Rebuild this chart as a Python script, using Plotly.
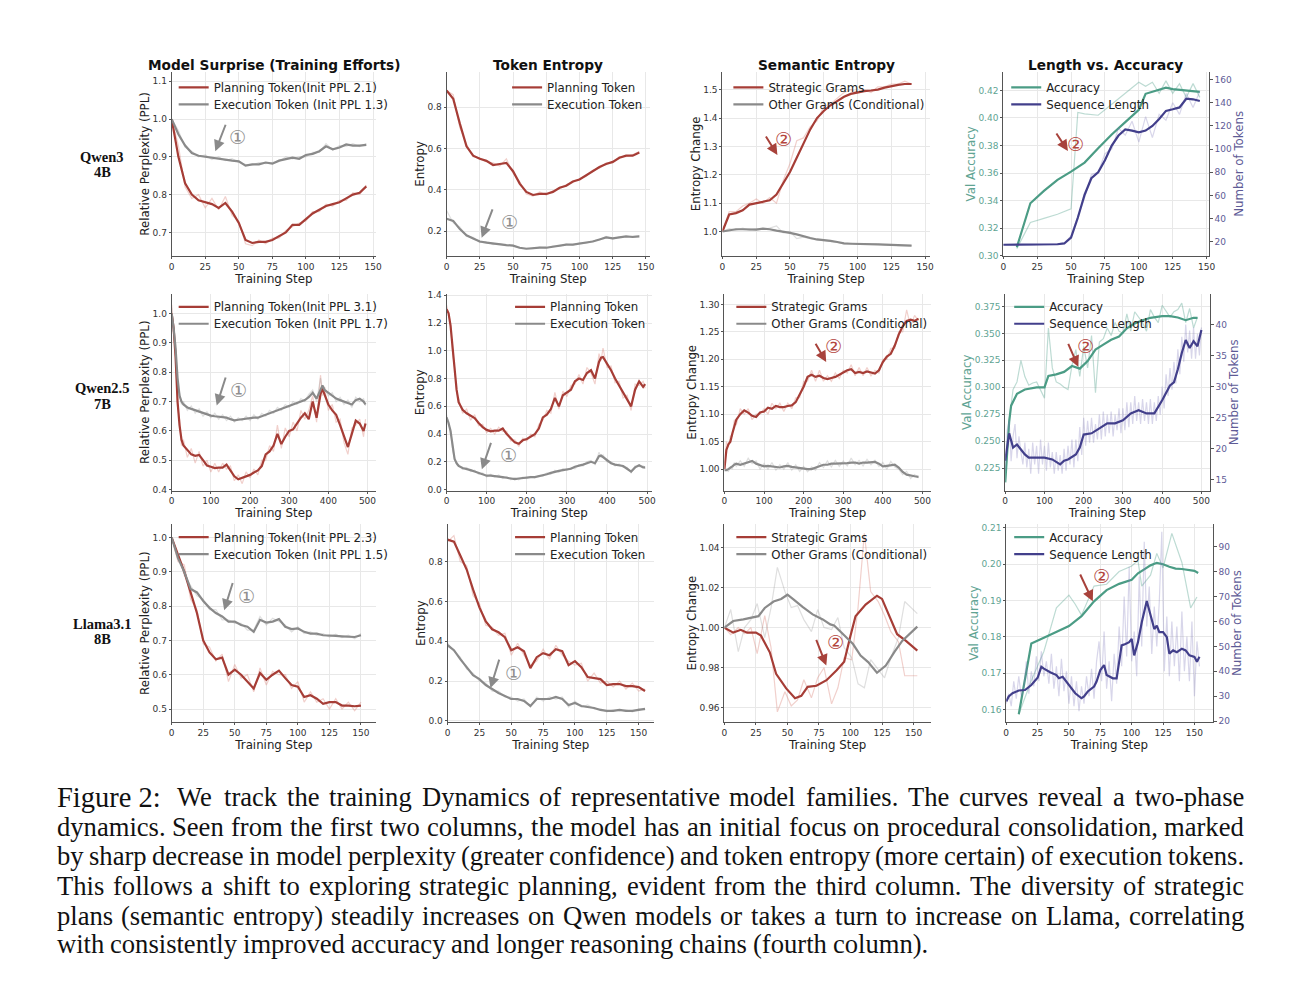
import plotly.graph_objects as go

W, H = 1300, 995

# ------------------------------------------------------------------ data
# Row 1 : Qwen3 4B
R1_X = [0, 5, 10, 15, 20, 25, 30, 35, 40, 45, 50, 55, 60, 65, 70, 75, 80, 85, 90, 95,
        100, 105, 110, 115, 120, 125, 130, 135, 140, 145]
R1C1_PLAN = [1.0, 0.90, 0.83, 0.80, 0.785, 0.78, 0.775, 0.765, 0.778, 0.755, 0.725, 0.68, 0.672, 0.675,
             0.675, 0.68, 0.69, 0.70, 0.72, 0.72, 0.735, 0.75, 0.76, 0.77, 0.775, 0.78, 0.79, 0.80, 0.805, 0.822]
R1C1_EXEC = [1.0, 0.96, 0.93, 0.91, 0.903, 0.90, 0.897, 0.895, 0.893, 0.89, 0.888, 0.877, 0.88, 0.88,
             0.885, 0.882, 0.89, 0.895, 0.898, 0.895, 0.905, 0.908, 0.915, 0.928, 0.92, 0.925, 0.933, 0.93, 0.93, 0.932]
R1C1_PLAN_RAW = [1.0, 0.93, 0.82, 0.79, 0.80, 0.765, 0.79, 0.76, 0.795, 0.745, 0.73, 0.67, 0.665, 0.68, 0.67,
                 0.685, 0.685, 0.705, 0.715, 0.725, 0.73, 0.755, 0.755, 0.775, 0.77, 0.785, 0.785, 0.805, 0.80, 0.825]
R1C1_EXEC_RAW = [1.0, 0.97, 0.925, 0.915, 0.90, 0.905, 0.893, 0.90, 0.89, 0.895, 0.885, 0.88, 0.878, 0.885,
                 0.882, 0.886, 0.888, 0.90, 0.895, 0.90, 0.90, 0.912, 0.912, 0.935, 0.918, 0.93, 0.928, 0.935,
                 0.927, 0.935]
R1C2_PLAN = [0.88, 0.84, 0.72, 0.61, 0.565, 0.55, 0.54, 0.52, 0.525, 0.53, 0.49, 0.43, 0.39, 0.375, 0.38,
             0.38, 0.39, 0.41, 0.42, 0.44, 0.45, 0.47, 0.49, 0.51, 0.525, 0.535, 0.555, 0.565, 0.565, 0.58]
R1C2_EXEC = [0.26, 0.25, 0.21, 0.18, 0.165, 0.15, 0.145, 0.14, 0.135, 0.133, 0.13, 0.12, 0.115, 0.118, 0.12,
             0.12, 0.125, 0.13, 0.135, 0.135, 0.14, 0.145, 0.15, 0.16, 0.17, 0.165, 0.17, 0.175, 0.172, 0.175]
R1C2_PLAN_RAW = [0.88, 0.86, 0.70, 0.62, 0.56, 0.555, 0.535, 0.53, 0.515, 0.55, 0.48, 0.44, 0.38, 0.37, 0.39,
                 0.375, 0.395, 0.405, 0.425, 0.435, 0.455, 0.465, 0.495, 0.505, 0.53, 0.53, 0.56, 0.56, 0.57, 0.585]
R1C2_EXEC_RAW = [0.30, 0.24, 0.22, 0.175, 0.17, 0.145, 0.15, 0.135, 0.14, 0.13, 0.133, 0.118, 0.117, 0.115,
                 0.123, 0.118, 0.128, 0.127, 0.138, 0.132, 0.143, 0.142, 0.153, 0.158, 0.175, 0.162, 0.173,
                 0.172, 0.176, 0.178]
R1C3_X = [0, 5, 10, 15, 20, 25, 30, 35, 40, 45, 50, 55, 60, 65, 70, 75, 80, 85, 90, 95,
          100, 105, 110, 115, 120, 125, 130, 135, 140]
R1C3_STRAT = [1.0, 1.06, 1.065, 1.075, 1.095, 1.10, 1.105, 1.11, 1.13, 1.17, 1.21, 1.26, 1.31, 1.36, 1.40,
              1.425, 1.445, 1.46, 1.475, 1.485, 1.49, 1.495, 1.497, 1.50, 1.507, 1.513, 1.517, 1.52, 1.52]
R1C3_OTHER = [1.0, 1.005, 1.008, 1.008, 1.007, 1.007, 1.01, 1.008, 1.003, 1.0, 0.995, 0.99, 0.983, 0.977,
              0.972, 0.97, 0.967, 0.963, 0.958, 0.957, 0.957, 0.956, 0.956, 0.955, 0.954, 0.953, 0.951, 0.95, 0.95]
R1C3_STRAT_RAW = [1.0, 1.07, 1.07, 1.09, 1.10, 1.115, 1.10, 1.12, 1.10, 1.18, 1.24, 1.32, 1.33, 1.37, 1.39,
                  1.44, 1.45, 1.47, 1.49, 1.50, 1.49, 1.50, 1.49, 1.51, 1.51, 1.52, 1.52, 1.53, 1.52]
R1C3_OTHER_RAW = [1.0, 1.01, 1.005, 1.012, 1.005, 1.01, 1.008, 1.012, 1.02, 0.995, 1.0, 0.975, 0.98, 0.975,
                  0.97, 0.968, 0.965, 0.962, 0.956, 0.958, 0.955, 0.957, 0.955, 0.956, 0.953, 0.954, 0.95, 0.951, 0.95]
R1C4_ACC_X = [10, 20, 30, 40, 50, 60, 70, 80, 90, 100, 105, 110, 120, 125, 130, 140, 145]
R1C4_ACC = [0.306, 0.338, 0.347, 0.355, 0.361, 0.3676, 0.378, 0.388, 0.397, 0.406, 0.4176, 0.419, 0.422,
            0.421, 0.4205, 0.419, 0.419]
R1C4_ACC_RAW_X = [10, 20, 30, 40, 50, 55, 60, 70, 80, 90, 100, 105, 110, 115, 120, 125, 130, 135, 140, 145]
R1C4_ACC_RAW = [0.305, 0.324, 0.327, 0.330, 0.334, 0.404, 0.403, 0.402, 0.41, 0.418, 0.426, 0.423, 0.426,
                0.418, 0.427, 0.418, 0.425, 0.415, 0.425, 0.415]
R1C4_SEQ = [17.4, 17.4, 17.6, 17.4, 17.2, 17.2, 17.4, 17.6, 17.8, 18.5, 23.6, 40.7, 60.6, 74.8, 80, 90.4,
            103, 111.7, 117, 116, 114.5, 116, 120, 126, 133, 134.4, 136, 143.5, 143, 141.5]
R1C4_SEQ_RAW = [17.4, 17.6, 17.8, 17.5, 17.2, 17.4, 17.6, 17.9, 18.2, 19, 25, 42, 58, 78, 80, 96, 100, 118,
                112, 124, 106, 128, 110, 130, 125, 140, 130, 148, 136, 150]

# Row 2 : Qwen2.5 7B
R2_X = [0, 5, 10, 15, 20, 25, 30, 40, 50, 60, 70, 80, 90, 100, 110, 120, 130, 140, 150, 160, 170, 180,
        190, 200, 210, 220, 230, 240, 250, 260, 270, 280, 290, 300, 310, 320, 330, 340, 350, 360, 370,
        380, 385, 390, 400, 410, 420, 430, 440, 450, 460, 470, 480, 490, 495]
R2C1_PLAN = [1.0, 0.95, 0.85, 0.70, 0.62, 0.57, 0.55,
             0.535, 0.52, 0.515, 0.518, 0.50, 0.482, 0.478, 0.473, 0.475, 0.475, 0.485, 0.465, 0.445, 0.435,
             0.44, 0.445, 0.45, 0.458, 0.465, 0.48, 0.52, 0.53, 0.55, 0.59, 0.555, 0.58, 0.60, 0.605, 0.625,
             0.645, 0.66, 0.64, 0.70, 0.645, 0.725, 0.745, 0.725,
             0.69, 0.67, 0.655, 0.62, 0.585, 0.545, 0.59, 0.635, 0.625, 0.60, 0.625]
R2C1_EXEC = [1.0, 0.95, 0.88, 0.78, 0.72, 0.70, 0.69,
             0.68, 0.675, 0.67, 0.665, 0.66, 0.655, 0.652, 0.65, 0.648, 0.645, 0.645, 0.64, 0.636, 0.638,
             0.64, 0.642, 0.642, 0.645, 0.645, 0.65, 0.655, 0.66, 0.665, 0.67, 0.675, 0.68, 0.685, 0.69,
             0.695, 0.70, 0.705, 0.715, 0.73, 0.71, 0.74, 0.755, 0.74,
             0.73, 0.72, 0.71, 0.705, 0.70, 0.695, 0.69, 0.705, 0.71, 0.70, 0.69]
R2C1_PLAN_RAW = [1.03, 0.92, 0.87, 0.68, 0.64, 0.55, 0.57,
                 0.51, 0.54, 0.49, 0.53, 0.48, 0.50, 0.46, 0.49, 0.46, 0.49, 0.47, 0.48, 0.43, 0.45, 0.42,
                 0.46, 0.44, 0.47, 0.45, 0.50, 0.50, 0.55, 0.53, 0.62, 0.54, 0.61, 0.58, 0.63, 0.60, 0.67,
                 0.64, 0.67, 0.72, 0.63, 0.79, 0.72, 0.75,
                 0.67, 0.69, 0.63, 0.64, 0.56, 0.52, 0.61, 0.62, 0.64, 0.58, 0.64]
R2C1_EXEC_RAW = [1.02, 0.93, 0.90, 0.75, 0.73, 0.69, 0.70,
                 0.67, 0.685, 0.66, 0.675, 0.65, 0.665, 0.645, 0.66, 0.64, 0.655, 0.635, 0.65, 0.63, 0.645,
                 0.635, 0.65, 0.635, 0.655, 0.64, 0.66, 0.65, 0.67, 0.66, 0.68, 0.67, 0.69, 0.68, 0.70, 0.69,
                 0.71, 0.70, 0.725, 0.74, 0.70, 0.78, 0.74, 0.75,
                 0.72, 0.73, 0.70, 0.715, 0.69, 0.705, 0.68, 0.715, 0.70, 0.71, 0.685]
R2C2_PLAN = [1.3, 1.27, 1.18, 1.02, 0.85, 0.72, 0.63,
             0.575, 0.55, 0.53, 0.515, 0.48, 0.45, 0.43, 0.42, 0.425, 0.425, 0.44, 0.40, 0.37, 0.34, 0.33,
             0.355, 0.365, 0.38, 0.40, 0.44, 0.52, 0.54, 0.58, 0.66, 0.60, 0.68, 0.70, 0.72, 0.78, 0.80,
             0.79, 0.84, 0.86, 0.80, 0.92, 0.95, 0.955,
             0.91, 0.86, 0.80, 0.75, 0.69, 0.65, 0.60, 0.72, 0.78, 0.74, 0.76]
R2C2_EXEC = [0.52, 0.48, 0.42, 0.30, 0.22, 0.19, 0.17,
             0.155, 0.15, 0.14, 0.13, 0.12, 0.11, 0.10, 0.10, 0.098, 0.095, 0.09, 0.085, 0.08, 0.075, 0.08,
             0.085, 0.085, 0.09, 0.09, 0.095, 0.10, 0.11, 0.12, 0.13, 0.135, 0.14, 0.145, 0.15, 0.165, 0.17,
             0.18, 0.19, 0.20, 0.19, 0.24, 0.245, 0.235,
             0.21, 0.19, 0.18, 0.175, 0.17, 0.15, 0.13, 0.16, 0.175, 0.16, 0.16]
R2C2_PLAN_RAW = [1.33, 1.25, 1.20, 0.98, 0.88, 0.70, 0.66,
                 0.55, 0.58, 0.50, 0.54, 0.46, 0.47, 0.41, 0.44, 0.40, 0.45, 0.42, 0.42, 0.35, 0.36, 0.31,
                 0.37, 0.35, 0.40, 0.38, 0.47, 0.50, 0.57, 0.55, 0.70, 0.58, 0.71, 0.67, 0.75, 0.76, 0.83,
                 0.76, 0.88, 0.84, 0.76, 0.98, 0.93, 1.02,
                 0.88, 0.89, 0.77, 0.78, 0.66, 0.68, 0.57, 0.76, 0.75, 0.78, 0.73]
R2C2_EXEC_RAW = [0.54, 0.46, 0.44, 0.28, 0.23, 0.18, 0.18,
                 0.145, 0.16, 0.13, 0.14, 0.11, 0.12, 0.09, 0.11, 0.09, 0.105, 0.08, 0.095, 0.07, 0.085, 0.07,
                 0.09, 0.08, 0.095, 0.085, 0.10, 0.095, 0.12, 0.11, 0.14, 0.125, 0.15, 0.14, 0.16, 0.15, 0.18,
                 0.17, 0.20, 0.21, 0.18, 0.27, 0.23, 0.25,
                 0.20, 0.20, 0.17, 0.185, 0.16, 0.16, 0.12, 0.17, 0.165, 0.17, 0.15]
R2C3_X = [0, 5, 10, 15, 20, 25, 30, 40, 50, 60, 70, 80, 90, 100, 110, 120, 130, 140, 150, 160, 170, 180,
          190, 200, 210, 220, 230, 240, 250, 260, 270, 280, 290, 300, 310, 320, 330, 340, 350, 360, 370,
          380, 390, 400, 410, 420, 430, 440, 450, 460, 470, 480, 490]
R2C3_STRAT = [1.0, 1.035, 1.045, 1.05, 1.065, 1.08, 1.09,
              1.10, 1.107, 1.103, 1.097, 1.095, 1.103,
              1.105, 1.112, 1.11, 1.115, 1.113, 1.113, 1.115, 1.116, 1.122, 1.135,
              1.15, 1.168, 1.172, 1.168, 1.17, 1.166, 1.164, 1.166, 1.168, 1.172,
              1.176, 1.18, 1.182, 1.175, 1.177, 1.175, 1.178, 1.176, 1.174, 1.18,
              1.195, 1.205, 1.21, 1.225, 1.245, 1.26, 1.27, 1.272, 1.27, 1.274]
R2C3_OTHER = [0.998, 0.998, 1.0, 1.002, 1.005, 1.008, 1.01,
              1.008, 1.01, 1.012, 1.015, 1.01, 1.007,
              1.005, 1.006, 1.005, 1.004, 1.003, 1.005, 1.006, 1.004, 1.003, 1.001,
              1.0, 1.0, 1.0, 1.003, 1.005, 1.008, 1.008, 1.01, 1.01, 1.01,
              1.01, 1.011, 1.012, 1.012, 1.01, 1.012, 1.012, 1.013, 1.013, 1.01,
              1.005, 1.006, 1.007, 1.008, 1.003, 0.995, 0.99, 0.988, 0.987, 0.986]
R2C3_STRAT_RAW = [1.0, 1.05, 1.04, 1.06, 1.06, 1.09, 1.08,
                  1.11, 1.10, 1.11, 1.09, 1.10, 1.10,
                  1.11, 1.10, 1.12, 1.11, 1.12, 1.105, 1.12, 1.11, 1.13, 1.13,
                  1.16, 1.16, 1.18, 1.16, 1.18, 1.16, 1.17, 1.16, 1.175, 1.165,
                  1.18, 1.175, 1.19, 1.17, 1.185, 1.17, 1.185, 1.17, 1.18, 1.175,
                  1.20, 1.20, 1.22, 1.22, 1.25, 1.25, 1.29, 1.26, 1.28, 1.27]
R2C3_OTHER_RAW = [0.998, 1.0, 0.995, 1.005, 1.0, 1.012, 1.005,
                  1.015, 1.005, 1.02, 1.01, 1.015, 1.0,
                  1.01, 1.0, 1.012, 0.998, 1.008, 1.0, 1.012, 0.998, 1.008, 0.996,
                  1.005, 0.995, 1.004, 0.998, 1.012, 1.003, 1.015, 1.004, 1.016, 1.005,
                  1.015, 1.006, 1.02, 1.008, 1.016, 1.006, 1.018, 1.008, 1.016, 1.005,
                  1.012, 1.0, 1.014, 1.004, 1.0, 0.99, 0.996, 0.983, 0.99, 0.984]
R2C4_ACC_X = [0, 5, 10, 15, 20, 30, 50, 80, 100, 110, 130, 150, 170, 190, 210, 230, 250, 270, 290, 310,
              330, 350, 370, 400, 420, 440, 460, 480, 490]
R2C4_ACC = [0.212, 0.245, 0.268, 0.283, 0.287, 0.294, 0.298, 0.300, 0.300, 0.3106, 0.312, 0.3143, 0.3197,
            0.3173, 0.3243, 0.335, 0.3395, 0.344, 0.347, 0.3547, 0.3592, 0.3622, 0.3644, 0.3659, 0.366,
            0.3647, 0.3622, 0.3644, 0.3644]
R2C4_ACC_RAW_X = [0, 10, 20, 30, 40, 50, 60, 70, 80, 90, 100, 110, 120, 130, 140, 150, 160, 170, 180, 190,
                  200, 210, 220, 230, 240, 250, 260, 270, 280, 290, 300, 310, 320, 330, 340, 350, 360, 370,
                  380, 390, 400, 410, 420, 430, 440, 450, 460, 470, 480, 490]
R2C4_ACC_RAW = [0.212, 0.27, 0.298, 0.305, 0.325, 0.31, 0.302, 0.304, 0.305, 0.298, 0.29, 0.355, 0.318,
                0.305, 0.303, 0.30, 0.298, 0.32, 0.335, 0.31, 0.338, 0.318, 0.348, 0.295, 0.342, 0.345,
                0.355, 0.348, 0.36, 0.352, 0.35, 0.368, 0.352, 0.37, 0.365, 0.36, 0.352, 0.372, 0.365, 0.36,
                0.376, 0.37, 0.365, 0.37, 0.372, 0.378, 0.36, 0.373, 0.355, 0.365]
R2C4_SEQ_X = [0, 10, 20, 30, 40, 50, 60, 80, 100, 120, 140, 150, 160, 180, 190, 200, 220, 240, 260, 280,
              300, 320, 340, 360, 380, 400, 420, 430, 440, 450, 460, 470, 480, 490, 500]
R2C4_SEQ = [18.1, 22.5, 20.2, 20.7, 19.9, 19.1, 18.6, 18.6, 18.6, 18.3, 17.5, 18.1, 18.3, 19.1, 20.2, 22.3,
            22.5, 23.3, 24.1, 24.1, 24.6, 25.7, 26.2, 25.7, 25.7, 27.8, 30.2, 30.7, 32.8, 35.4, 37.5, 36.2,
            37.3, 36.5, 39.1]
R2C4_SEQ_RAW_X = list(range(0, 501, 5))
R2C4_SEQ_RAW = [16.5, 23.0, 24.5, 18.0, 22.0, 24.0, 18.5, 22.0, 19.5, 17.5,
                21.0, 17.0, 20.0, 16.0, 21.0, 17.5, 20.5, 16.0, 21.5, 17.5,
                20.5, 16.5, 21.0, 17.0, 19.5, 16.0, 19.5, 16.5, 19.0, 16.0,
                20.0, 16.5, 20.5, 17.5, 21.5, 17.0, 21.5, 18.0, 23.5, 19.0,
                25.0, 20.5, 24.5, 21.0, 25.0, 21.0, 24.0, 21.5, 25.5, 21.5,
                26.0, 22.0, 25.5, 22.5, 26.0, 22.0, 25.5, 23.0, 26.5, 22.5,
                26.5, 23.0, 27.5, 23.5, 27.5, 24.0, 28.5, 24.5, 27.5, 24.0,
                28.0, 24.5, 27.5, 24.0, 28.0, 24.0, 27.5, 24.5, 28.5, 25.5,
                30.0, 26.5, 32.0, 28.5, 33.0, 29.5, 34.0, 30.5, 36.0, 32.0,
                38.0, 34.0, 40.0, 35.5, 39.0, 34.5, 39.5, 34.5, 38.5, 35.0,
                39.5]

# Row 3 : Llama3.1 8B
R3_X = [0, 5, 10, 15, 20, 25, 30, 35, 40, 45, 50, 55, 60, 65, 70, 75, 80, 85, 90, 95, 100, 105, 110,
        115, 120, 125, 130, 135, 140, 145, 150]
R3C1_PLAN = [1.0, 0.95, 0.90, 0.84, 0.78, 0.70, 0.665, 0.645, 0.65, 0.60, 0.615, 0.60, 0.58, 0.56, 0.605,
             0.585, 0.60, 0.612, 0.59, 0.57, 0.565, 0.535, 0.54, 0.53, 0.515, 0.52, 0.52, 0.51, 0.51, 0.508, 0.51]
R3C1_EXEC = [1.0, 0.94, 0.90, 0.85, 0.84, 0.815, 0.795, 0.78, 0.77, 0.755, 0.755, 0.745, 0.74, 0.725, 0.76,
             0.752, 0.755, 0.762, 0.74, 0.733, 0.735, 0.725, 0.72, 0.72, 0.715, 0.713, 0.713, 0.712, 0.71,
             0.71, 0.715]
R3C1_PLAN_RAW = [1.0, 0.93, 0.92, 0.82, 0.79, 0.69, 0.68, 0.64, 0.66, 0.58, 0.63, 0.59, 0.60, 0.55, 0.62,
                 0.57, 0.61, 0.60, 0.60, 0.56, 0.58, 0.52, 0.55, 0.52, 0.53, 0.50, 0.53, 0.50, 0.52, 0.495, 0.52]
R3C1_EXEC_RAW = [1.0, 0.95, 0.89, 0.86, 0.83, 0.82, 0.79, 0.79, 0.76, 0.76, 0.75, 0.75, 0.73, 0.73, 0.77,
                 0.745, 0.765, 0.755, 0.745, 0.725, 0.74, 0.72, 0.725, 0.715, 0.72, 0.71, 0.718, 0.708, 0.715,
                 0.705, 0.72]
R3C2_X = [0, 5, 10, 15, 20, 25, 30, 35, 40, 45, 50, 55, 60, 65, 70, 75, 80, 85, 90, 95, 100, 105, 110,
          115, 120, 125, 130, 135, 140, 145, 150, 155]
R3C2_PLAN = [0.91, 0.90, 0.83, 0.76, 0.66, 0.57, 0.50, 0.46, 0.445, 0.42, 0.355, 0.37, 0.35, 0.265, 0.32,
             0.34, 0.33, 0.36, 0.35, 0.28, 0.30, 0.27, 0.22, 0.215, 0.21, 0.18, 0.185, 0.185, 0.175, 0.175,
             0.17, 0.15]
R3C2_EXEC = [0.38, 0.355, 0.31, 0.27, 0.23, 0.21, 0.18, 0.16, 0.14, 0.125, 0.11, 0.11, 0.10, 0.075, 0.11,
             0.11, 0.11, 0.12, 0.11, 0.08, 0.09, 0.075, 0.07, 0.065, 0.055, 0.05, 0.05, 0.055, 0.05, 0.05,
             0.055, 0.06]
R3C2_PLAN_RAW = [0.90, 0.93, 0.80, 0.78, 0.63, 0.59, 0.48, 0.47, 0.43, 0.44, 0.33, 0.39, 0.33, 0.28, 0.30,
                 0.36, 0.31, 0.38, 0.33, 0.30, 0.28, 0.29, 0.20, 0.24, 0.19, 0.20, 0.17, 0.20, 0.16, 0.19,
                 0.15, 0.16]
R3C2_EXEC_RAW = [0.39, 0.35, 0.32, 0.26, 0.24, 0.20, 0.19, 0.15, 0.15, 0.12, 0.12, 0.10, 0.11, 0.07, 0.12,
                 0.10, 0.12, 0.11, 0.12, 0.07, 0.10, 0.07, 0.08, 0.06, 0.06, 0.045, 0.055, 0.05, 0.055, 0.045,
                 0.06, 0.055]
R3C3_STRAT_X = [0, 7, 13, 18, 25, 29, 36, 41, 49, 56, 61, 66, 73, 81, 89, 95, 100, 104, 112, 121, 125,
                132, 137, 144, 153]
R3C3_STRAT = [1.0, 0.9975, 0.9989, 0.9975, 0.9975, 0.996, 0.9877, 0.977, 0.9697, 0.9648, 0.966, 0.9705,
              0.971, 0.9738, 0.9787, 0.983, 0.9959, 1.0057, 1.0115, 1.0159, 1.0143, 1.004, 0.9967, 0.9934,
              0.9885]
R3C3_OTHER_X = [0, 7, 15, 23, 27, 32, 39, 45, 50, 55, 62, 70, 78, 84, 87, 95, 102, 108, 114, 121, 128,
                135, 141, 153]
R3C3_OTHER = [1.0, 1.0033, 1.0041, 1.005, 1.0057, 1.0098, 1.013, 1.0143, 1.0164, 1.014, 1.0103, 1.0066,
              1.0041, 1.0016, 1.0011, 0.9962, 0.9918, 0.9861, 0.9828, 0.9775, 0.9811, 0.988, 0.9934, 1.0005]
R3C3_RAW_X = [0, 5, 11, 16, 21, 26, 32, 37, 42, 48, 53, 58, 63, 69, 74, 79, 85, 90, 95, 101, 106, 111,
              116, 122, 127, 132, 138, 143, 148, 153]
R3C3_STRAT_RAW = [1.0, 0.9965, 1.0, 0.997, 1.0, 0.987, 1.006, 0.99, 0.958, 0.968, 0.961, 0.964, 0.974,
                  0.965, 0.975, 0.98, 0.962, 0.97, 0.985, 0.984, 1.01, 1.047, 1.018, 1.013, 1.006, 0.998,
                  0.993, 0.976, 0.976, 0.976]
R3C3_OTHER_RAW = [1.0, 1.009, 0.988, 1.0, 1.004, 1.012, 0.995, 1.01, 1.03, 1.018, 1.01, 1.011, 1.004, 0.998,
                  1.009, 1.0, 0.999, 1.005, 0.99, 0.985, 0.972, 0.97, 0.984, 0.979, 0.975, 0.985, 0.995,
                  1.013, 1.01, 1.007]
R3C4_ACC_X = [10, 20, 30, 40, 50, 60, 70, 80, 90, 100, 105, 110, 115, 120, 125, 130, 135, 140, 145, 150, 153]
R3C4_ACC = [0.1587, 0.1782, 0.1798, 0.1814, 0.183, 0.1857, 0.1898, 0.1929, 0.1946, 0.1957, 0.1975, 0.1986,
            0.1997, 0.2004, 0.2000, 0.1993, 0.1988, 0.1987, 0.1984, 0.1982, 0.1976]
R3C4_ACC_RAW_X = [10, 20, 30, 40, 50, 55, 60, 65, 70, 80, 90, 100, 105, 108, 115, 120, 125, 132, 140, 147, 152]
R3C4_ACC_RAW = [0.1587, 0.168, 0.176, 0.188, 0.1915, 0.189, 0.186, 0.19, 0.194, 0.1945, 0.198, 0.1995,
                0.201, 0.194, 0.197, 0.203, 0.199, 0.2085, 0.2005, 0.188, 0.191]
R3C4_SEQ_X = [0, 2, 5, 10, 15, 20, 25, 28, 30, 35, 40, 42, 45, 48, 50, 55, 60, 62, 65, 68, 70, 72, 75,
              78, 80, 85, 88, 90, 92, 95, 98, 100, 102, 105, 108, 112, 115, 118, 120, 122, 125, 128, 130,
              133, 136, 140, 143, 146, 150, 152, 154]
R3C4_SEQ = [27.9, 29.9, 31.2, 32.3, 32.5, 34.5, 37.4, 41.8, 41.1, 39.6, 38.5, 37.2, 37.8, 35.9, 34.5, 31.2,
            29.2, 29.9, 31.9, 33.2, 33.9, 35.9, 40.5, 42.5, 38.5, 37.2, 37.2, 43.8, 50.4, 51.0, 51.7, 53.0,
            46.4, 51.7, 59.6, 68.2, 62.3, 57.0, 58.3, 55.7, 55.7, 53.7, 47.1, 48.4, 47.7, 49.1, 48.4, 46.4,
            45.8, 43.8, 45.8]
R3C4_SEQ_RAW_X = list(range(0, 155, 2))
R3C4_SEQ_RAW = [27, 31, 26, 36, 29, 38, 30, 33, 44, 31, 40, 34, 46, 36, 48, 38, 44, 35, 47, 33, 42, 30, 45,
                32, 40, 27, 38, 26, 36, 24, 34, 27, 38, 30, 41, 29, 44, 52, 36, 56, 33, 44, 28, 47, 35, 58,
                42, 70, 46, 82, 44, 56, 38, 78, 50, 92, 58, 74, 47, 66, 50, 68, 96, 40, 62, 38, 60, 42, 58,
                36, 64, 40, 54, 36, 60, 30, 52, 42]

TITLES = ["Model Surprise (Training Efforts)", "Token Entropy", "Semantic Entropy", "Length vs. Accuracy"]
ROW_LABELS = [("Qwen3", "4B"), ("Qwen2.5", "7B"), ("Llama3.1", "8B")]
PPL_NAMES = [("Planning Token(Init PPL 2.1)", "Execution Token (Init PPL 1.3)"),
             ("Planning Token(Init PPL 3.1)", "Execution Token (Init PPL 1.7)"),
             ("Planning Token(Init PPL 2.3)", "Execution Token (Init PPL 1.5)")]
ENT_NAMES = ("Planning Token", "Execution Token")
SEM_NAMES = ("Strategic Grams", "Other Grams (Conditional)")
LEN_NAMES = ("Accuracy", "Sequence Length")
CAPTION_HEAD = "Figure 2:"
CAPTION_LINES = [
    "We track the training Dynamics of representative model families. The curves reveal a two-phase",
    "dynamics. Seen from the first two columns, the model has an initial focus on procedural consolidation, marked",
    "by sharp decrease in model perplexity (greater confidence) and token entropy (more certain) of execution tokens.",
    "This follows a shift to exploring strategic planning, evident from the third column. The diversity of strategic",
    "plans (semantic entropy) steadily increases on Qwen models or takes a turn to increase on Llama, correlating",
    "with consistently improved accuracy and longer reasoning chains (fourth column).",
]

# ------------------------------------------------------------------ style / layout
RED = "#a63d36"
RED_RAW = "rgba(215,120,110,0.35)"
GRAY = "#8a8a8a"
GRAY_RAW = "rgba(150,150,150,0.30)"
GREEN = "#4b9c85"
GREEN_RAW = "rgba(90,165,145,0.40)"
PURPLE = "#423f8b"
PURPLE_RAW = "rgba(125,120,185,0.30)"
ACC_TXT = "#5fa493"
TOK_TXT = "#5e5b96"

ROW_PIX = [(69, 255), (293, 491), (525, 724)]
COL_PIX = [[(170, 376), (447, 652), (725, 934), (1008, 1215)],
           [(170, 376), (447, 654), (727, 935), (1010, 1216)],
           [(170, 376), (448, 656), (727, 935), (1011, 1219)]]
X_RANGES = [[152.3, 153, 153.5, 151.5], [522, 512, 521, 521], [162, 162, 163.7, 164.5]]
X_DTICK = [25, 100, 25]
Y_RANGES = [[(0.637, 1.126), (0.079, 0.972), (0.913, 1.564), (0.2995, 0.4338)],
            [(0.3966, 1.067), (-0.007, 1.41), (0.961, 1.319), (0.2044, 0.3865)],
            [(0.4624, 1.0386), (-0.005, 0.987), (0.953, 1.0515), (0.1566, 0.2110)]]
Y_DTICK = [[0.1, 0.2, 0.1, 0.02], [0.1, 0.2, 0.05, 0.025], [0.1, 0.2, 0.02, 0.01]]
Y_FMT = [[".1f", ".1f", ".1f", ".2f"], [".1f", ".1f", ".2f", ".3f"], [".1f", ".1f", ".2f", ".2f"]]
Y2_RANGES = [(7.5, 167), (13.3, 44.9), (19.7, 99)]
Y2_DTICK = [20, 5, 10]
Y_TITLES = ["Relative Perplexity (PPL)", "Entropy", "Entropy Change", "Val Accuracy"]

# arrows: (tail_x, tail_y, head_x, head_y, label_x, label_y, kind)
ARROWS = [
    [(40.6, 0.989, 32.5, 0.915, 49, 0.953, 1), (35, 0.313, 26.4, 0.168, 47.7, 0.243, 1),
     (31.5, 1.34, 40.7, 1.27, 45.4, 1.326, 2), (38.5, 0.3898, 47.7, 0.376, 53, 0.3814, 2)],
    [(139, 0.787, 115, 0.687, 170, 0.738, 1), (112, 0.347, 88, 0.146, 154, 0.248, 1),
     (228, 1.231, 257, 1.195, 276, 1.224, 2), (159, 0.3416, 186, 0.319, 204, 0.338, 2)],
    [(48.7, 0.872, 41.6, 0.788, 59, 0.829, 1), (40.9, 0.315, 33.7, 0.165, 51.6, 0.242, 1),
     (72.4, 0.9946, 80.8, 0.9811, 88, 0.993, 2), (58.4, 0.1976, 69, 0.1898, 75.8, 0.1967, 2)],
]
LEG_TEXT_X = [[212, 548, 771, 1051], [212, 551, 774, 1054], [212, 551, 774, 1054]]
LEG_Y = [(85, 102), (306, 323), (538, 555)]
ROW_LABEL_Y = [(155, 170), (388, 404), (625, 641)]
CAPTION_Y = [800, 830, 859, 889, 919, 948]
CAP_SIZE = 26.6
CAP_LEFT, CAP_RIGHT, CAP_FIRST = 57, 1253, 178

# Times / Liberation Serif advance widths (per 1000 em) for caption justification
TIMES_W = {" ": 250, ".": 250, ",": 250, ":": 278, ";": 278, "(": 333, ")": 333, "-": 333, "'": 333}
TIMES_W.update(dict(zip("abcdefghijklmnopqrstuvwxyz",
                        [444, 500, 444, 500, 444, 333, 500, 500, 278, 278, 500, 278, 778, 500, 500, 500, 500,
                         333, 389, 278, 500, 500, 722, 500, 500, 444])))
TIMES_W.update(dict(zip("ABCDEFGHIJKLMNOPQRSTUVWXYZ",
                        [722, 667, 667, 722, 611, 556, 722, 722, 333, 389, 722, 611, 889, 722, 722, 556, 722,
                         667, 556, 611, 722, 722, 944, 722, 722, 611])))
TIMES_W.update({d: 500 for d in "0123456789"})


def text_w(s, size):
    return sum(TIMES_W.get(ch, 500) for ch in s) * size / 1000.0


fig = go.Figure()
layout = dict(width=W, height=H, margin=dict(l=0, r=0, t=0, b=0), paper_bgcolor="white",
              plot_bgcolor="white", font=dict(family="DejaVu Sans", color="#222"), showlegend=True)
annotations = []
leg_count = [0]


def aid(p):
    return "" if p == 1 else str(p)


def new_legend(tx, ty):
    leg_count[0] += 1
    n = leg_count[0]
    key = "legend" if n == 1 else "legend%d" % n
    layout[key] = dict(x=(tx - 40) / W, y=1 - ty / H, xanchor="left", yanchor="middle",
                       bgcolor="rgba(0,0,0,0)", borderwidth=0, itemwidth=30,
                       font=dict(size=11.8, family="DejaVu Sans", color="#222"))
    return key


def line(p, x, y, color, width, name=None, legend=None, yaxis=None):
    fig.add_trace(go.Scatter(x=x, y=y, mode="lines", line=dict(color=color, width=width),
                             name=name if name else "", showlegend=name is not None,
                             legend=legend if legend else "legend", hoverinfo="skip",
                             xaxis="x" + aid(p), yaxis=yaxis if yaxis else "y" + aid(p)))


# (smooth x, smooth y, raw x, raw y, colour)
data = {
    (0, 0): [(R1_X, R1C1_PLAN, R1_X, R1C1_PLAN_RAW, RED), (R1_X, R1C1_EXEC, R1_X, R1C1_EXEC_RAW, GRAY)],
    (0, 1): [(R1_X, R1C2_PLAN, R1_X, R1C2_PLAN_RAW, RED), (R1_X, R1C2_EXEC, R1_X, R1C2_EXEC_RAW, GRAY)],
    (0, 2): [(R1C3_X, R1C3_STRAT, R1C3_X, R1C3_STRAT_RAW, RED),
             (R1C3_X, R1C3_OTHER, R1C3_X, R1C3_OTHER_RAW, GRAY)],
    (1, 0): [(R2_X, R2C1_PLAN, R2_X, R2C1_PLAN_RAW, RED), (R2_X, R2C1_EXEC, R2_X, R2C1_EXEC_RAW, GRAY)],
    (1, 1): [(R2_X, R2C2_PLAN, R2_X, R2C2_PLAN_RAW, RED), (R2_X, R2C2_EXEC, R2_X, R2C2_EXEC_RAW, GRAY)],
    (1, 2): [(R2C3_X, R2C3_STRAT, R2C3_X, R2C3_STRAT_RAW, RED),
             (R2C3_X, R2C3_OTHER, R2C3_X, R2C3_OTHER_RAW, GRAY)],
    (2, 0): [(R3_X, R3C1_PLAN, R3_X, R3C1_PLAN_RAW, RED), (R3_X, R3C1_EXEC, R3_X, R3C1_EXEC_RAW, GRAY)],
    (2, 1): [(R3C2_X, R3C2_PLAN, R3C2_X, R3C2_PLAN_RAW, RED),
             (R3C2_X, R3C2_EXEC, R3C2_X, R3C2_EXEC_RAW, GRAY)],
    (2, 2): [(R3C3_STRAT_X, R3C3_STRAT, R3C3_RAW_X, R3C3_STRAT_RAW, RED),
             (R3C3_OTHER_X, R3C3_OTHER, R3C3_RAW_X, R3C3_OTHER_RAW, GRAY)],
}
len_data = [
    (R1C4_ACC_X, R1C4_ACC, R1C4_ACC_RAW_X, R1C4_ACC_RAW, R1_X, R1C4_SEQ, R1_X, R1C4_SEQ_RAW),
    (R2C4_ACC_X, R2C4_ACC, R2C4_ACC_RAW_X, R2C4_ACC_RAW, R2C4_SEQ_X, R2C4_SEQ, R2C4_SEQ_RAW_X, R2C4_SEQ_RAW),
    (R3C4_ACC_X, R3C4_ACC, R3C4_ACC_RAW_X, R3C4_ACC_RAW, R3C4_SEQ_X, R3C4_SEQ, R3C4_SEQ_RAW_X, R3C4_SEQ_RAW),
]

tick_font = dict(size=9, family="DejaVu Sans", color="#333")
for r in range(3):
    for c in range(4):
        p = r * 4 + c + 1
        x0, x1 = COL_PIX[r][c]
        top, bot = ROW_PIX[r]
        layout["xaxis" + aid(p)] = dict(
            domain=[x0 / W, x1 / W], anchor="y" + aid(p), range=[0, X_RANGES[r][c]], dtick=X_DTICK[r],
            tick0=0, showgrid=True, gridcolor="#e8e8e8", gridwidth=1, zeroline=False, showline=True,
            linecolor="#555", linewidth=1, ticks="outside", ticklen=2, tickcolor="#555",
            tickfont=tick_font, title=dict(text="Training Step", font=dict(size=11.8), standoff=0))
        ycol = ACC_TXT if c == 3 else "#222"
        layout["yaxis" + aid(p)] = dict(
            domain=[1 - bot / H, 1 - top / H], anchor="x" + aid(p), range=list(Y_RANGES[r][c]),
            dtick=Y_DTICK[r][c], tick0=0, tickformat=Y_FMT[r][c], showgrid=True, gridcolor="#e8e8e8",
            gridwidth=1, zeroline=False, showline=True, linecolor="#555", linewidth=1, ticks="outside",
            ticklen=2, tickcolor="#555",
            tickfont=dict(size=9, family="DejaVu Sans", color=ACC_TXT if c == 3 else "#333"),
            title=dict(text=Y_TITLES[c], font=dict(size=11.8, color=ycol), standoff=0))
        if c == 3:
            layout["yaxis%d" % (12 + r + 1)] = dict(
                overlaying="y" + aid(p), side="right", anchor="x" + aid(p), range=list(Y2_RANGES[r]),
                dtick=Y2_DTICK[r], tick0=0, showgrid=False, zeroline=False, showline=True,
                linecolor="#555", linewidth=1, ticks="outside", ticklen=3, tickcolor="#555",
                tickfont=dict(size=9, family="DejaVu Sans", color=TOK_TXT),
                title=dict(text="Number of Tokens", font=dict(size=11.8, color=TOK_TXT), standoff=1))

        if c < 3:
            if c == 0:
                names = PPL_NAMES[r]
            elif c == 1:
                names = ENT_NAMES
            else:
                names = SEM_NAMES
            series = data[(r, c)]
            for (xs, ys, rx, ry, col) in series:
                if ry is not None:
                    line(p, rx, ry, RED_RAW if col == RED else GRAY_RAW, 1.2)
            for k, (xs, ys, rx, ry, col) in enumerate(series):
                lg = new_legend(LEG_TEXT_X[r][c], LEG_Y[r][k])
                line(p, xs, ys, col, 2.2, names[k], lg)
        else:
            ax_, ay_, arx, ary, sx, sy, srx, sry = len_data[r]
            y2 = "y%d" % (12 + r + 1)
            line(p, arx, ary, GREEN_RAW, 1.2)
            line(p, srx, sry, PURPLE_RAW, 1.2, yaxis=y2)
            lg = new_legend(LEG_TEXT_X[r][c], LEG_Y[r][0])
            line(p, ax_, ay_, GREEN, 2.2, LEN_NAMES[0], lg)
            lg = new_legend(LEG_TEXT_X[r][c], LEG_Y[r][1])
            line(p, sx, sy, PURPLE, 2.2, LEN_NAMES[1], lg, yaxis=y2)

        tx, ty, hx, hy, lx, ly, kind = ARROWS[r][c]
        acol = GRAY if kind == 1 else "#a8423b"
        xr, yr = "x" + aid(p), "y" + aid(p)
        annotations.append(dict(x=hx, y=hy, ax=tx, ay=ty, xref=xr, yref=yr, axref=xr, ayref=yr,
                                text="", showarrow=True, arrowhead=2, arrowsize=1.1, arrowwidth=2,
                                arrowcolor=acol))
        annotations.append(dict(x=lx, y=ly, xref=xr, yref=yr, text="\u2460" if kind == 1 else "\u2461",
                                showarrow=False, font=dict(size=19, color="#8f8f8f" if kind == 1 else "#b4463e",
                                                           family="DejaVu Sans, Noto Sans CJK SC")))

for c in range(4):
    x0, x1 = COL_PIX[0][c]
    annotations.append(dict(x=(x0 + x1) / 2 / W, y=1 - 62 / H, xref="paper", yref="paper",
                            text="<b>%s</b>" % TITLES[c], showarrow=False, xanchor="center",
                            yanchor="middle", font=dict(size=13.7, family="DejaVu Sans", color="#111")))
for r in range(3):
    for k in range(2):
        annotations.append(dict(x=100 / W, y=1 - ROW_LABEL_Y[r][k] / H, xref="paper", yref="paper",
                                text="<b>%s</b>" % ROW_LABELS[r][k], showarrow=False, xanchor="center",
                                yanchor="middle",
                                font=dict(size=14.5, family="Liberation Serif", color="#111")))

# caption: "Figure 2:" plus justified body text, placed word by word
PAD = 5
annotations.append(dict(x=(CAP_LEFT - PAD) / W, y=1 - CAPTION_Y[0] / H, xref="paper", yref="paper",
                        text=CAPTION_HEAD, showarrow=False, xanchor="left", yanchor="middle",
                        font=dict(size=28.5, family="Liberation Serif", color="#111")))
for i, t in enumerate(CAPTION_LINES):
    start = CAP_FIRST if i == 0 else CAP_LEFT
    words = t.split(" ")
    widths = [text_w(w_, CAP_SIZE) for w_ in words]
    if i < len(CAPTION_LINES) - 1:
        gap = (CAP_RIGHT - start - sum(widths)) / (len(words) - 1)
    else:
        gap = text_w(" ", CAP_SIZE)
    xpos = start
    for w_, wd in zip(words, widths):
        annotations.append(dict(x=(xpos - PAD) / W, y=1 - CAPTION_Y[i] / H, xref="paper", yref="paper",
                                text=w_, showarrow=False, xanchor="left", yanchor="middle",
                                font=dict(size=CAP_SIZE, family="Liberation Serif", color="#111")))
        xpos += wd + gap

layout["annotations"] = annotations
fig.update_layout(**layout)
fig.write_html("out.html", config={"displayModeBar": False},
               post_script="document.body.style.margin='0px';")
